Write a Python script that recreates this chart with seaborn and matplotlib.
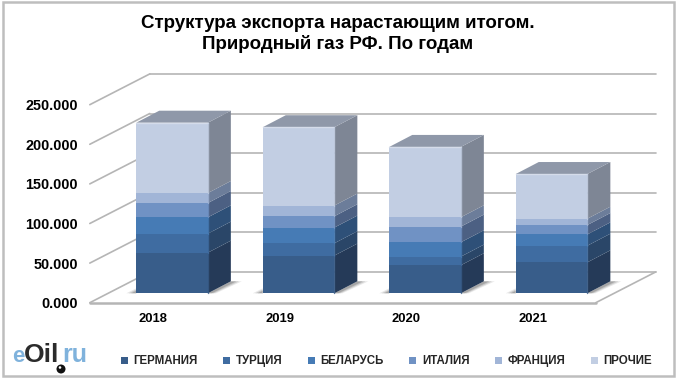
import matplotlib
matplotlib.use("Agg")
import matplotlib.pyplot as plt
import numpy as np
import seaborn as sns
from matplotlib.colors import to_rgb
from matplotlib.lines import Line2D
from matplotlib.patches import Circle, Polygon, Rectangle
from matplotlib.transforms import Affine2D, IdentityTransform

# данные (тыс.)
years = ["2018", "2019", "2020", "2021"]
germany = [51.3, 47.6, 35.4, 39.1]
turkey = [24.0, 15.6, 10.9, 21.0]
belarus = [20.6, 19.8, 18.1, 14.3]
italy = [18.1, 14.3, 19.8, 11.8]
france = [12.6, 13.5, 11.8, 8.0]
other = [88.8, 98.9, 88.8, 56.4]
series_names = ["ГЕРМАНИЯ", "ТУРЦИЯ", "БЕЛАРУСЬ", "ИТАЛИЯ", "ФРАНЦИЯ", "ПРОЧИЕ"]
series_values = [germany, turkey, belarus, italy, france, other]
front_colors = ["#385D8A", "#3F6CA1", "#467BB5", "#7092C4", "#A1B5D7", "#C2CEE3"]
side_colors = ["#253A58", "#2A4668", "#2E5078", "#4C6083", "#6C7D9A", "#7E8695"]
top_color = "#8F98A9"
y_ticks = [0, 50, 100, 150, 200, 250]
y_tick_labels = ["0.000", "50.000", "100.000", "150.000", "200.000", "250.000"]

W, H = 680, 384
GRID = "#B5B5B5"
DEPTH = (23, 12)      # глубина столбика, px
FRONT = (-19, -9.4)   # передний край пола относительно плоскости столбиков
BACK = (41, 21.4)     # задняя стенка


def flip(y):
    return H - y


sns.set_theme(style="white")
plt.rcParams["font.family"] = ["Liberation Sans", "DejaVu Sans"]

fig = plt.figure(figsize=(W / 100, H / 100), dpi=100)
ax = fig.add_axes([108.8 / W, 90.7 / H, 506 / W, 198 / H])
px = IdentityTransform()

bottom = np.zeros(len(years))
for name, vals, col in zip(series_names, series_values, front_colors):
    sns.barplot(x=years, y=vals, bottom=bottom, color=col, saturation=1, width=0.566,
                label=name, legend=False, ax=ax, zorder=5, linewidth=0)
    bottom = bottom + np.array(vals)

ax.set_xlim(-0.5, 3.5)
ax.set_ylim(0, 250)
ax.set_facecolor("none")
sns.despine(ax=ax, left=True, bottom=True)
ax.set_yticks(y_ticks)
ax.set_yticklabels(y_tick_labels)
ax.tick_params(axis="y", length=0, pad=8.5, labelsize=10.4)
ax.tick_params(axis="x", length=0, pad=7.6, labelsize=9.4)
ax.set_xlabel("")
ax.set_ylabel("")
fig.canvas.draw()

# подписи сдвинуты на передний край пола
shift = Affine2D().translate(*FRONT)
for lab in ax.get_yticklabels() + ax.get_xticklabels():
    lab.set_fontweight("bold")
    lab.set_color("black")
    lab.set_transform(lab.get_transform() + shift)


def to_px(x, v):
    return ax.transData.transform((x, v))


def line(p0, p1, lw=1.2, z=1):
    ax.add_line(Line2D([p0[0], p1[0]], [p0[1], p1[1]], color=GRID, lw=lw, transform=px,
                       clip_on=False, zorder=z))


# стенки и сетка
for t in y_ticks:
    lft = to_px(-0.5, t)
    rgt = to_px(3.5, t)
    line(lft + FRONT, lft + BACK)
    line(lft + BACK, rgt + BACK)
p0 = to_px(-0.5, 0)
p1 = to_px(3.5, 0)
line(p0 + FRONT, p1 + FRONT, lw=1.8)
line(p1 + FRONT, p1 + BACK)

# боковые грани, верх и тень
n_series = len(series_names)
for i, cont in enumerate(ax.containers):
    for bar in cont:
        x0, x1 = bar.get_x(), bar.get_x() + bar.get_width()
        y0, y1 = bar.get_y(), bar.get_y() + bar.get_height()
        bl = to_px(x1, y0)
        tl = to_px(x1, y1)
        ax.add_patch(Polygon([bl, bl + DEPTH, tl + DEPTH, tl], closed=True, fc=side_colors[i],
                             ec="none", transform=px, clip_on=False, zorder=4))
        if i == 0:
            a = to_px(x0, 0)
            for k, alpha in zip([1.0, 0.75, 0.5], [0.12, 0.18, 0.25]):
                ax.add_patch(Polygon([bl, bl + (8 * k, 0), bl + (23 + 11 * k, 12), bl + (23, 12)],
                                     closed=True, fc="#404040", ec="none", alpha=alpha,
                                     transform=px, clip_on=False, zorder=2))
                ax.add_patch(Polygon([a, a + (-10 * k, 0), a + (0, 5 * k)],
                                     closed=True, fc="#404040", ec="none", alpha=alpha,
                                     transform=px, clip_on=False, zorder=2))
        if i == n_series - 1:
            tf = to_px(x0, y1)
            ax.add_patch(Polygon([tf, tl, tl + DEPTH, tf + DEPTH], closed=True, fc=top_color,
                                 ec="none", transform=px, clip_on=False, zorder=4))
            ax.add_line(Line2D([tf[0], tl[0]], [tf[1], tl[1]], color="#D5DCEA", lw=1,
                               transform=px, clip_on=False, zorder=6))
        # светлое ребро справа
        ax.add_line(Line2D([tl[0], bl[0]], [tl[1], bl[1]], color=to_rgb(front_colors[i]), lw=1,
                           alpha=0.8, transform=px, clip_on=False, zorder=6))

# рамка
fig.add_artist(Rectangle((3, flip(376)), 671, 374, fc="none", ec="#BEBEBE", lw=1.8, transform=px))

fig.suptitle("Структура экспорта нарастающим итогом.\nПриродный газ РФ. По годам",
             x=338 / W, y=1 - 15 / H, va="top", ha="center", fontsize=13.5, fontweight="bold",
             color="black", linespacing=1.2)

handles = [c.patches[0] for c in ax.containers]
leg = fig.legend(handles, series_names, loc="center left", bbox_to_anchor=(121 / W, 1 - 361.5 / H),
                 ncol=6, frameon=False, handlelength=0.6, handleheight=0.6,
                 handletextpad=0.5, columnspacing=2.2, borderpad=0, borderaxespad=0,
                 prop={"weight": "bold", "size": 8.3})
# буква Ц опускает подпись на пиксель, выравниваем строку
for txt in leg.get_texts():
    if "Ц" in txt.get_text():
        txt.set_y(0.5)

# логотип
fig.text(12, flip(362), "e", color="#7FB2DC", fontsize=16, fontweight="bold", transform=px)
fig.text(24, flip(362), "Oil", color="#2B2B2B", fontsize=19, fontweight="bold", transform=px)
fig.text(62, flip(362), "ru", color="#7FB2DC", fontsize=18, fontweight="bold", transform=px)
fig.add_artist(Circle((61, flip(369)), 4.5, fc="#111111", ec="none", transform=px))
fig.add_artist(Circle((60, flip(367.5)), 1.3, fc="white", ec="none", transform=px))

fig.savefig("out.png", dpi=100)
